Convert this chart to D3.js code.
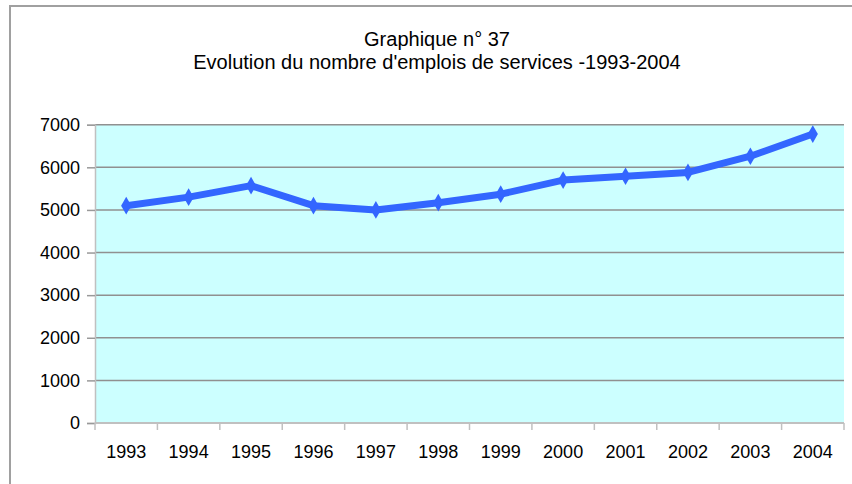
<!DOCTYPE html>
<html>
<head>
<meta charset="utf-8">
<script src="https://cdn.jsdelivr.net/npm/d3@7"></script>
<style>
  body { margin: 0; background: #fff; }
  text { font-family: "Liberation Sans", Arial, sans-serif; fill: #000; }
</style>
</head>
<body>
<div id="chart"></div>
<script>
const years = ["1993", "1994", "1995", "1996", "1997", "1998", "1999", "2000", "2001", "2002", "2003", "2004"];
const emplois = [5100, 5300, 5570, 5100, 5000, 5170, 5370, 5700, 5790, 5880, 6260, 6780];
const yTicks = [0, 1000, 2000, 3000, 4000, 5000, 6000, 7000];
const titleLines = ["Graphique n° 37", "Evolution du nombre d'emplois de services -1993-2004"];

const width = 852
, height = 484
, plot = { left: 95, right: 844, top: 124.7, bottom: 423 };

const svg = d3.select("#chart").append("svg")
  .attr("width", width)
  .attr("height", height);

// outer frame, runs past the right and bottom edges
svg.append("rect")
  .attr("x", 10)
  .attr("y", 6)
  .attr("width", 900)
  .attr("height", 600)
  .style("fill", "none")
  .style("stroke", "#a0a0a0")
  .style("stroke-width", 2);

svg.selectAll(".title")
  .data(titleLines)
  .enter().append("text")
  .attr("class", "title")
  .attr("x", 437)
  .attr("y", (d, i) => 46 + i * 23)
  .attr("text-anchor", "middle")
  .style("font-size", "20px")
  .text(d => d);

const x = d3.scaleBand()
  .domain(years)
  .range([plot.left, plot.right]);

const y = d3.scaleLinear()
  .domain([0, 7000])
  .range([plot.bottom, plot.top]);

svg.append("rect")
  .attr("x", plot.left)
  .attr("y", plot.top)
  .attr("width", plot.right - plot.left)
  .attr("height", plot.bottom - plot.top)
  .style("fill", "#ccffff");

// gridlines
svg.selectAll(".grid")
  .data(yTicks.filter(d => d > 0))
  .enter().append("line")
  .attr("class", "grid")
  .attr("x1", plot.left)
  .attr("x2", plot.right)
  .attr("y1", d => y(d))
  .attr("y2", d => y(d))
  .style("stroke", "#909090")
  .style("stroke-width", 1.5);

// y axis
const yAxis = svg.append("g")
  .attr("transform", `translate(${plot.left},0)`)
  .call(d3.axisLeft(y).tickValues(yTicks).tickFormat(d3.format("d")).tickSize(8).tickPadding(7));
yAxis.select(".domain").style("stroke", "#c0c0c0").style("stroke-width", 1.5);
yAxis.selectAll(".tick line").style("stroke", "#999").style("stroke-width", 1.5);
yAxis.selectAll(".tick text").style("font-size", "18px").style("font-family", "'Liberation Sans', Arial, sans-serif");

// x axis, ticks on band edges
const xAxis = svg.append("g")
  .attr("transform", `translate(0,${plot.bottom})`);
xAxis.append("line")
  .attr("x1", plot.left)
  .attr("x2", plot.right)
  .style("stroke", "#c0c0c0")
  .style("stroke-width", 2);
xAxis.selectAll(".xtick")
  .data(years.concat(["end"]))
  .enter().append("line")
  .attr("class", "xtick")
  .attr("x1", d => d == "end" ? plot.right : x(d))
  .attr("x2", d => d == "end" ? plot.right : x(d))
  .attr("y1", 0)
  .attr("y2", 7)
  .style("stroke", "#c0c0c0")
  .style("stroke-width", 1.5);
xAxis.selectAll(".xlabel")
  .data(years)
  .enter().append("text")
  .attr("class", "xlabel")
  .attr("x", d => x(d) + x.bandwidth() / 2)
  .attr("y", 35)
  .attr("text-anchor", "middle")
  .style("font-size", "18px")
  .text(d => d);

const line = d3.line()
  .x((d, i) => x(years[i]) + x.bandwidth() / 2)
  .y(d => y(d));

svg.append("path")
  .datum(emplois)
  .attr("d", line)
  .style("fill", "none")
  .style("stroke", "#3366ff")
  .style("stroke-width", 7)
  .style("stroke-linejoin", "round");

svg.selectAll(".marker")
  .data(emplois)
  .enter().append("path")
  .attr("class", "marker")
  .attr("d", d3.symbol(d3.symbolDiamond, 90))
  .attr("transform", (d, i) => `translate(${x(years[i]) + x.bandwidth() / 2},${y(d)})`)
  .style("fill", "#3366ff");
</script>
</body>
</html>
